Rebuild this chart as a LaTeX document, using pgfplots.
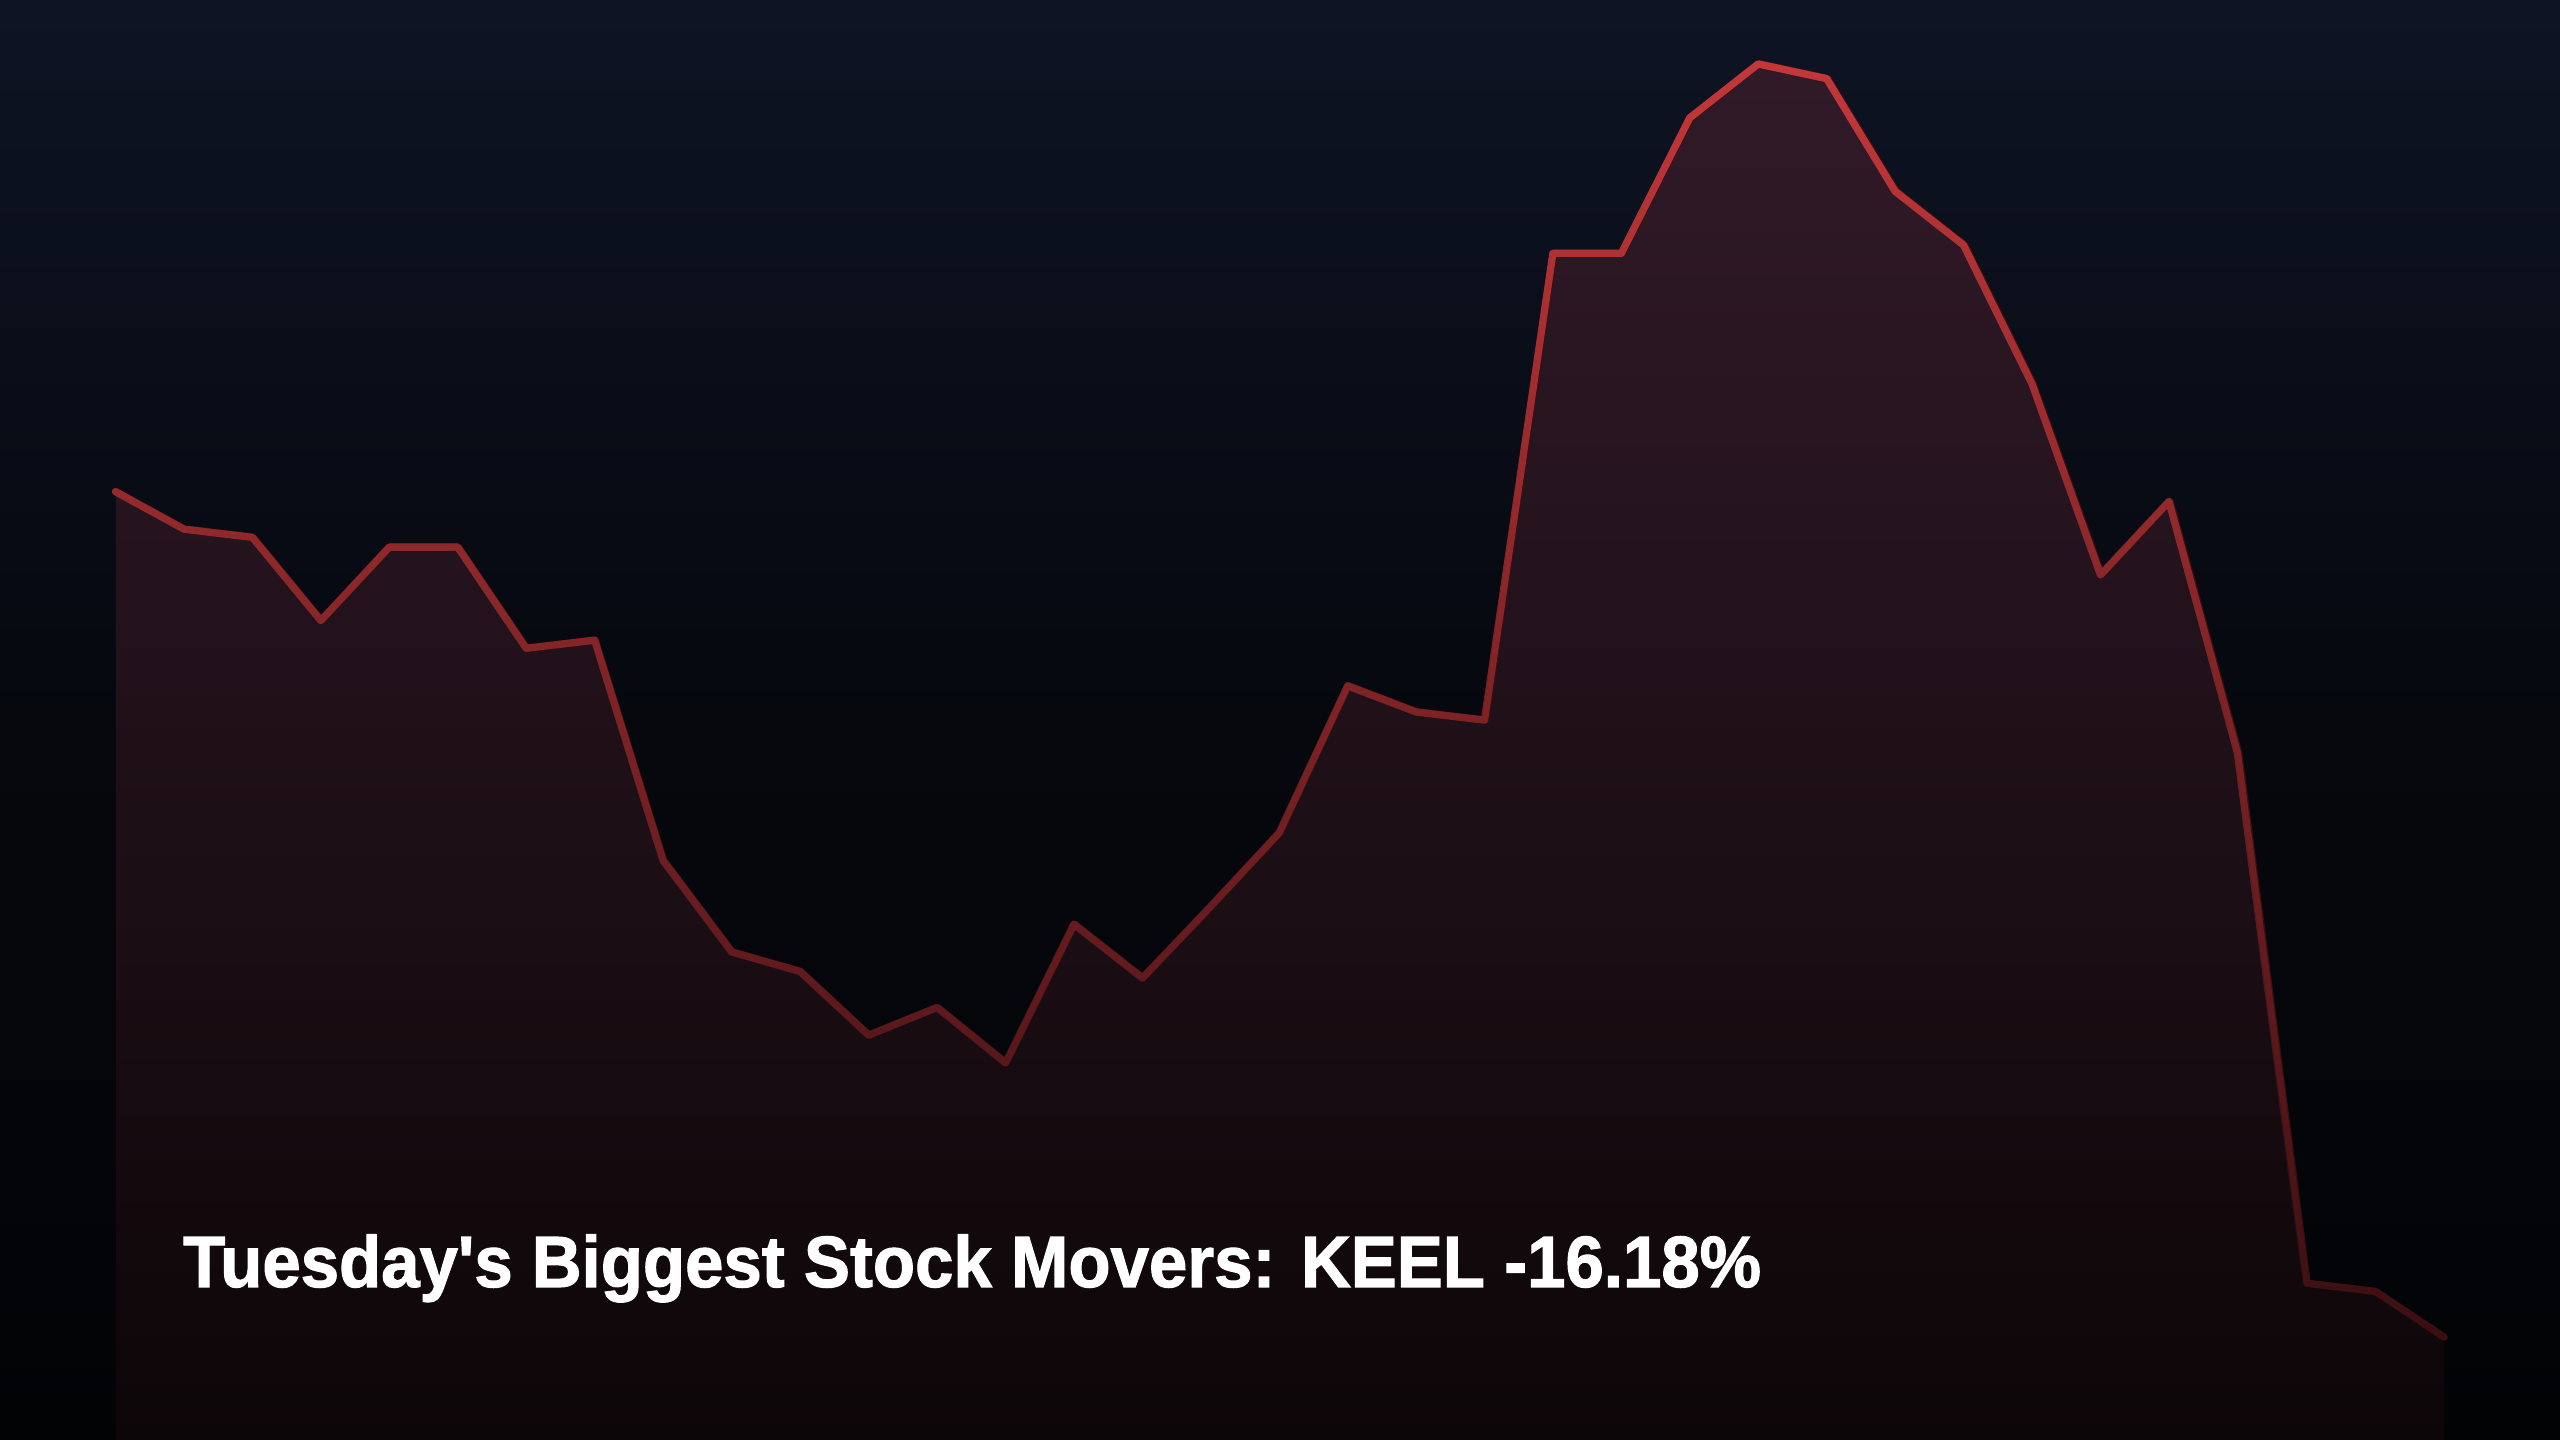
\documentclass[border=0pt]{standalone}
\usepackage{fontspec}
\setmainfont{Liberation Sans}
\newfontfamily\titlefont{Liberation Sans}[BoldFeatures={FakeBold=1.6}]
\usepackage{graphicx}
\usepackage{pgfplots}
\pgfplotsset{compat=1.18}
\usetikzlibrary{fadings}

\definecolor{bgtop}{HTML}{0E1424}
\definecolor{bgmid}{HTML}{06080E}
\definecolor{bgbot}{HTML}{020305}
\definecolor{filltop}{HTML}{311A28}
\definecolor{fillbot}{HTML}{0D0608}
\definecolor{linetop}{HTML}{C4383A}
\definecolor{linebot}{HTML}{3A0F12}

% price path, y measured up from the bottom edge (0..882)
\pgfplotstableread{
x y
0 581
1 558
2 553
3 502
4 547
5 547
6 485
7 490
8 355
9 299
10 287
11 248
12 265
13 231
14 316
15 283
16 327
17 372
18 462
19 446
20 441
21 727
22 727
23 810
24 843
25 834
26 765
27 732
28 647
29 530
30 575
31 421
32 96
33 91
34 63
}\keel

\begin{document}
\begin{tikzpicture}
\begin{axis}[
  width=16cm, height=9cm,
  scale only axis,
  hide axis,
  xmin=-1.693, xmax=35.693,
  ymin=0, ymax=882,
  clip=true,
]
  \fill[top color=bgtop, bottom color=bgbot, middle color=bgmid]
    (rel axis cs:0,0) rectangle (rel axis cs:1,1);
  \addplot[draw=none, top color=filltop, bottom color=fillbot]
    table[x=x, y=y] {\keel} \closedcycle;
  \addplot[draw=linebot, line width=1.3pt, line join=round, line cap=round]
    table[x=x, y=y] {\keel};
  \addplot[draw=linetop, line width=1.3pt, line join=round, line cap=round,
    path fading=south]
    table[x=x, y=y] {\keel};
  \node[anchor=base west, inner sep=0pt, text=white,
    font=\titlefont\fontsize{12.9}{14}\selectfont\bfseries]
    at (rel axis cs:0.0711,0.10625)
    {\resizebox{280.6pt}{\height}{Tuesday\textquotesingle s Biggest Stock Movers: KEEL -16.18\%}};
\end{axis}
\end{tikzpicture}
\end{document}
